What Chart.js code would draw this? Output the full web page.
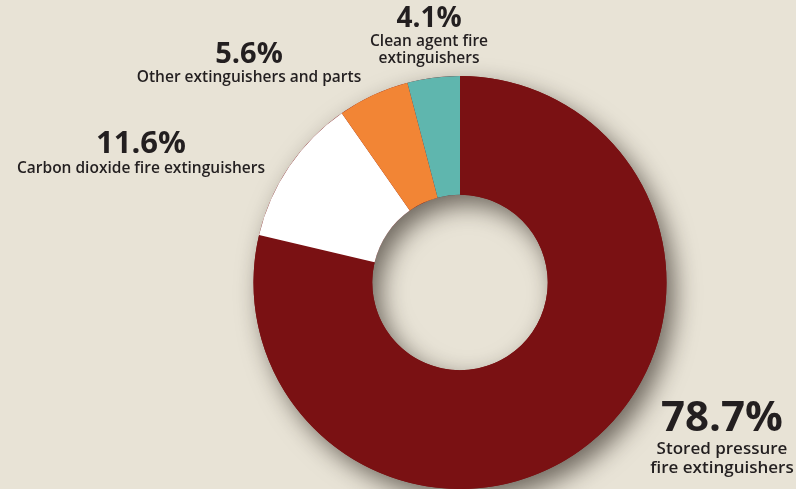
<!DOCTYPE html>
<html lang="en">
<head>
  <meta charset="UTF-8">
  <title>Fire extinguisher market share</title>
  <style>
    html, body {
      margin: 0;
      padding: 0;
      background-color: #e8e3d6;
    }
    .wrap {
      width: 796px;
      height: 489px;
    }
  </style>
  <script src="https://cdn.jsdelivr.net/npm/chart.js"></script>
</head>
<body>
  <div class="wrap"><canvas id="shareChart" width="796" height="489"></canvas></div>

  <script>
    const categories = [
      ['Stored pressure', 'fire extinguishers'],
      ['Carbon dioxide fire extinguishers'],
      ['Other extinguishers and parts'],
      ['Clean agent fire', 'extinguishers']
    ];
    const shares = [78.7, 11.6, 5.6, 4.1];
    const sliceColors = ['#7a1113', '#ffffff', '#f28535', '#5fb6ae'];

    // where each label block sits (centre x, top of the big number)
    const labelSpots = [
      { x: 722, y: 398, big: 42, small: 17 },
      { x: 141, y: 129, big: 31, small: 15.5 },
      { x: 249, y: 40, big: 29, small: 15.5 },
      { x: 429, y: 5, big: 28, small: 15.5 }
    ];

    // one shadow for the whole ring, so slices don't shade each other
    const shadowPlugin = {
      id: 'ringShadow',
      beforeDatasetsDraw(chart) {
        const arc = chart.getDatasetMeta(0).data[0];
        if (!arc) return;
        const ctx = chart.ctx;
        ctx.save();
        ctx.shadowColor = 'rgba(30, 22, 15, 0.6)';
        ctx.shadowBlur = 24;
        ctx.shadowOffsetX = 8;
        ctx.shadowOffsetY = 10;
        ctx.fillStyle = sliceColors[0];
        ctx.beginPath();
        ctx.arc(arc.x, arc.y, arc.outerRadius, 0, Math.PI * 2);
        ctx.arc(arc.x, arc.y, arc.innerRadius, 0, Math.PI * 2, true);
        ctx.closePath();
        ctx.fill();
        ctx.restore();
      }
    };

    const labelPlugin = {
      id: 'shareLabels',
      afterDraw(chart) {
        const ctx = chart.ctx;
        ctx.save();
        ctx.fillStyle = '#231f20';
        ctx.textAlign = 'center';
        ctx.textBaseline = 'top';
        shares.forEach((v, i) => {
          const s = labelSpots[i];
          ctx.font = `bold ${s.big}px "Open Sans", sans-serif`;
          ctx.fillText(v.toFixed(1) + '%', s.x, s.y);
          ctx.font = `600 ${s.small}px "Open Sans", sans-serif`;
          let y = s.y + s.big * 1.02;
          categories[i].forEach(line => {
            ctx.fillText(line, s.x, y);
            y += s.small * 1.12;
          });
        });
        ctx.restore();
      }
    };

    new Chart(document.getElementById('shareChart'), {
      type: 'doughnut',
      data: {
        labels: categories.map(c => c.join(' ')),
        datasets: [{
          data: shares,
          backgroundColor: sliceColors,
          borderWidth: 0
        }]
      },
      options: {
        responsive: false,
        animation: false,
        cutout: '42.5%',
        layout: { padding: { left: 253, right: 129, top: 76, bottom: 0 } },
        plugins: {
          legend: { display: false },
          tooltip: { enabled: false }
        }
      },
      plugins: [shadowPlugin, labelPlugin]
    });
  </script>
</body>
</html>
